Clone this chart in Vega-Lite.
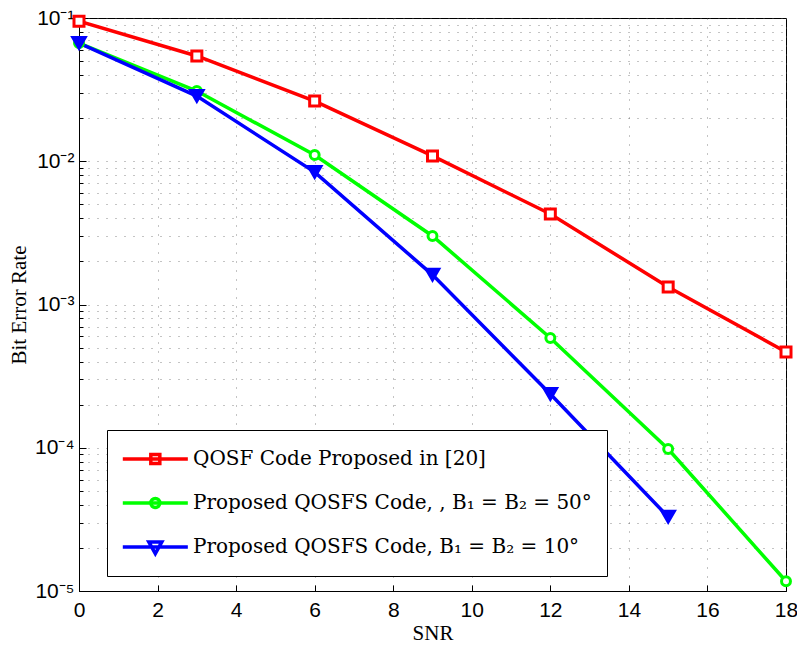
{
  "$schema": "https://vega.github.io/schema/vega-lite/v6.json",
  "width": 707,
  "height": 573,
  "autosize": {"type": "none"},
  "padding": {"left": 79, "top": 18, "right": 11, "bottom": 58},
  "background": "white",
  "config": {
    "view": {"stroke": "black", "strokeWidth": 1},
    "axis": {
      "domainColor": "black",
      "tickColor": "black",
      "labelColor": "black",
      "titleColor": "black",
      "labelFont": "Liberation Sans",
      "labelFontSize": 21,
      "titleFont": "Liberation Serif",
      "titleFontSize": 21,
      "titleFontWeight": "normal",
      "gridColor": "#555555",
      "gridDash": [1, 8],
      "gridWidth": 1,
      "gridOpacity": 0.7
    }
  },
  "data": {
    "values": [
      {"series": "QOSF Code Proposed in [20]", "snr": 0, "ber": 0.095},
      {"series": "QOSF Code Proposed in [20]", "snr": 3, "ber": 0.0543},
      {"series": "QOSF Code Proposed in [20]", "snr": 6, "ber": 0.0263},
      {"series": "QOSF Code Proposed in [20]", "snr": 9, "ber": 0.0109},
      {"series": "QOSF Code Proposed in [20]", "snr": 12, "ber": 0.00428},
      {"series": "QOSF Code Proposed in [20]", "snr": 15, "ber": 0.001325},
      {"series": "QOSF Code Proposed in [20]", "snr": 18, "ber": 0.000466},
      {"series": "Proposed QOSFS Code, , B₁ = B₂ = 50°", "snr": 0, "ber": 0.0669},
      {"series": "Proposed QOSFS Code, , B₁ = B₂ = 50°", "snr": 3, "ber": 0.0309},
      {"series": "Proposed QOSFS Code, , B₁ = B₂ = 50°", "snr": 6, "ber": 0.01106},
      {"series": "Proposed QOSFS Code, , B₁ = B₂ = 50°", "snr": 9, "ber": 0.00301},
      {"series": "Proposed QOSFS Code, , B₁ = B₂ = 50°", "snr": 12, "ber": 0.000584},
      {"series": "Proposed QOSFS Code, , B₁ = B₂ = 50°", "snr": 15, "ber": 0.000098},
      {"series": "Proposed QOSFS Code, , B₁ = B₂ = 50°", "snr": 18, "ber": 0.0000117},
      {"series": "Proposed QOSFS Code, B₁ = B₂ = 10°", "snr": 0, "ber": 0.0669},
      {"series": "Proposed QOSFS Code, B₁ = B₂ = 10°", "snr": 3, "ber": 0.0285},
      {"series": "Proposed QOSFS Code, B₁ = B₂ = 10°", "snr": 6, "ber": 0.0084},
      {"series": "Proposed QOSFS Code, B₁ = B₂ = 10°", "snr": 9, "ber": 0.00161},
      {"series": "Proposed QOSFS Code, B₁ = B₂ = 10°", "snr": 12, "ber": 0.000237},
      {"series": "Proposed QOSFS Code, B₁ = B₂ = 10°", "snr": 15, "ber": 0.0000329}
    ]
  },
  "layer": [
    {
      "mark": {"type": "line", "strokeWidth": 3.5, "clip": true},
      "encoding": {
        "x": {
          "field": "snr", "type": "quantitative",
          "scale": {"domain": [0, 18], "nice": false},
          "axis": {
            "orient": "bottom", "title": "SNR", "values": [0, 2, 4, 6, 8, 10, 12, 14, 16, 18],
            "grid": true, "tickSize": -6, "labelPadding": 14, "titlePadding": 2, "labelFlush": false,
            "labelFont": "Liberation Sans", "labelFontSize": 21,
            "titleFont": "Liberation Serif", "titleFontSize": 21, "titleFontWeight": "normal"
          }
        },
        "y": {
          "field": "ber", "type": "quantitative",
          "scale": {"type": "log", "domain": [0.00001, 0.1], "nice": false},
          "axis": {
            "orient": "left", "title": "Bit Error Rate",
            "values": [0.00001, 0.00002, 0.00003, 0.00004, 0.00005, 0.00006, 0.00007, 0.00008, 0.00009,
                       0.0001, 0.0002, 0.0003, 0.0004, 0.0005, 0.0006, 0.0007, 0.0008, 0.0009,
                       0.001, 0.002, 0.003, 0.004, 0.005, 0.006, 0.007, 0.008, 0.009,
                       0.01, 0.02, 0.03, 0.04, 0.05, 0.06, 0.07, 0.08, 0.09, 0.1],
            "labelExpr": "datum.value == 0.1 ? '10⁻¹' : datum.value == 0.01 ? '10⁻²' : datum.value == 0.001 ? '10⁻³' : datum.value == 0.0001 ? '10⁻⁴' : datum.value == 0.00001 ? '10⁻⁵' : ''",
            "grid": true,
            "tickSize": {"condition": {"test": "indexof([0.1, 0.01, 0.001, 0.0001, 0.00001], datum.value) >= 0", "value": -7}, "value": -4},
            "labelPadding": 12, "titlePadding": 5, "labelFlush": false, "labelOverlap": false,
            "labelFont": "Liberation Sans", "labelFontSize": 21,
            "titleFont": "Liberation Serif", "titleFontSize": 21, "titleFontWeight": "normal"
          }
        },
        "stroke": {
          "field": "series", "type": "nominal",
          "scale": {"domain": ["QOSF Code Proposed in [20]", "Proposed QOSFS Code, , B₁ = B₂ = 50°", "Proposed QOSFS Code, B₁ = B₂ = 10°"],
                    "range": ["#ff0000", "#00ff00", "#0000ff"]},
          "legend": {
            "title": null, "orient": "none", "legendX": 28, "legendY": 412,
            "strokeColor": "black", "fillColor": "white", "padding": 15,
            "labelFont": "DejaVu Serif", "labelFontSize": 20, "labelColor": "black",
            "labelLimit": 700, "labelOffset": 43, "rowPadding": 18,
            "symbolSize": 576, "symbolStrokeWidth": 3.5, "symbolOpacity": 1
          }
        },
        "order": {"field": "snr"}
      }
    },
    {
      "transform": [{"filter": "datum.series == 'QOSF Code Proposed in [20]'"}],
      "mark": {"type": "point", "shape": "square", "size": 100, "strokeWidth": 3, "stroke": "#ff0000", "fill": "white", "filled": false, "opacity": 1},
      "encoding": {
        "x": {"field": "snr", "type": "quantitative"},
        "y": {"field": "ber", "type": "quantitative"}
      }
    },
    {
      "transform": [{"filter": "datum.series == 'Proposed QOSFS Code, , B₁ = B₂ = 50°'"}],
      "mark": {"type": "point", "shape": "circle", "size": 80, "strokeWidth": 3, "stroke": "#00ff00", "fill": "white", "filled": false, "opacity": 1},
      "encoding": {
        "x": {"field": "snr", "type": "quantitative"},
        "y": {"field": "ber", "type": "quantitative"}
      }
    },
    {
      "transform": [{"filter": "datum.series == 'Proposed QOSFS Code, B₁ = B₂ = 10°'"}],
      "mark": {"type": "point", "shape": "triangle-down", "size": 200, "strokeWidth": 2, "stroke": "#0000ff", "fill": "#0000ff", "filled": true, "opacity": 1},
      "encoding": {
        "x": {"field": "snr", "type": "quantitative"},
        "y": {"field": "ber", "type": "quantitative"}
      }
    },
    {
      "mark": {"type": "point", "opacity": 0, "size": 576, "strokeWidth": 3.5},
      "encoding": {
        "x": {"field": "snr", "type": "quantitative"},
        "y": {"field": "ber", "type": "quantitative"},
        "stroke": {"field": "series", "type": "nominal"},
        "shape": {
          "field": "series", "type": "nominal",
          "scale": {"domain": ["QOSF Code Proposed in [20]", "Proposed QOSFS Code, , B₁ = B₂ = 50°", "Proposed QOSFS Code, B₁ = B₂ = 10°"],
                    "range": ["M-1.1,0H4.32M1.235,-0.375H1.985V0.375H1.235Z",
                              "M-1.1,0H4.32M1.985,0A0.375,0.375 0 1,1 1.235,0A0.375,0.375 0 1,1 1.985,0Z",
                              "M-1.1,0H4.32M1.07,-0.42H2.15L1.61,0.55Z"]}
        },
        "fill": {
          "field": "series", "type": "nominal",
          "scale": {"domain": ["QOSF Code Proposed in [20]", "Proposed QOSFS Code, , B₁ = B₂ = 50°", "Proposed QOSFS Code, B₁ = B₂ = 10°"],
                    "range": ["#ff0000", "#ffffff", "#0000ff"]}
        }
      }
    }
  ]
}
